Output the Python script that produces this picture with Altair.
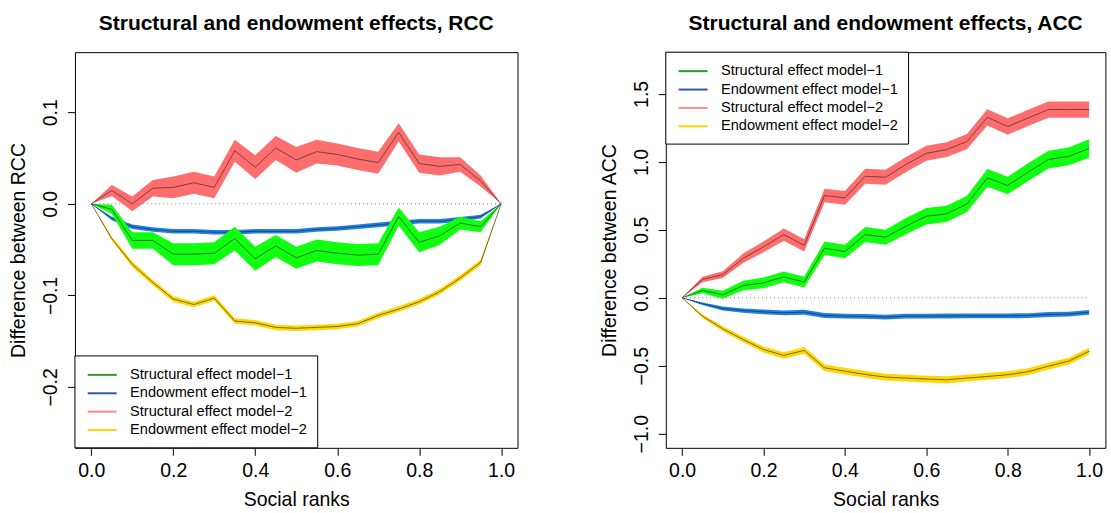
import altair as alt
import pandas as pd

FONT = "Liberation Sans"

# Social rank grid shared by every series
ranks = [0.0, 0.05, 0.1, 0.15, 0.2, 0.25, 0.3, 0.35, 0.4, 0.45, 0.5,
         0.55, 0.6, 0.65, 0.7, 0.75, 0.8, 0.85, 0.9, 0.95, 1.0]

names = ["Structural effect model\u22121", "Endowment effect model\u22121",
         "Structural effect model\u22122", "Endowment effect model\u22122"]

# ---- RCC: estimate and half width of its confidence band ----
rcc_s1 = [0, -0.006, -0.040, -0.040, -0.055, -0.055, -0.054, -0.038, -0.060, -0.046, -0.059,
          -0.051, -0.054, -0.056, -0.055, -0.014, -0.042, -0.035, -0.021, -0.025, 0]
rcc_s1_hw = [0, 0.005, 0.009, 0.009, 0.012, 0.012, 0.012, 0.013, 0.013, 0.012, 0.012,
             0.012, 0.012, 0.012, 0.012, 0.010, 0.011, 0.010, 0.007, 0.006, 0]
rcc_e1 = [0, -0.016, -0.025, -0.028, -0.030, -0.030, -0.031, -0.031, -0.030, -0.030, -0.030,
          -0.028, -0.027, -0.025, -0.023, -0.021, -0.019, -0.019, -0.017, -0.014, 0]
rcc_e1_hw = [0, 0.002, 0.0025, 0.0025, 0.0025, 0.0025, 0.0025, 0.0025, 0.0025, 0.0025, 0.0025,
             0.0025, 0.0025, 0.0025, 0.0025, 0.0025, 0.0025, 0.0025, 0.0025, 0.002, 0]
rcc_s2 = [0, 0.0146, 0.0, 0.017, 0.018, 0.023, 0.018, 0.058, 0.040, 0.061, 0.048,
          0.057, 0.054, 0.049, 0.045, 0.078, 0.044, 0.041, 0.043, 0.025, 0]
rcc_s2_hw = [0, 0.006, 0.008, 0.009, 0.012, 0.012, 0.012, 0.012, 0.013, 0.013, 0.014,
             0.013, 0.012, 0.012, 0.012, 0.010, 0.010, 0.010, 0.008, 0.006, 0]
rcc_e2 = [0, -0.038, -0.066, -0.086, -0.104, -0.110, -0.103, -0.128, -0.130, -0.135, -0.136,
          -0.135, -0.134, -0.131, -0.122, -0.115, -0.107, -0.096, -0.081, -0.064, 0]
rcc_e2_hw = [0, 0.002, 0.003, 0.003, 0.003, 0.003, 0.003, 0.003, 0.003, 0.003, 0.003,
             0.003, 0.003, 0.003, 0.003, 0.003, 0.003, 0.003, 0.003, 0.003, 0]

# ---- ACC: estimate and half width of its confidence band ----
acc_s1 = [0, 0.054, 0.022, 0.090, 0.110, 0.154, 0.115, 0.365, 0.340, 0.465, 0.446,
          0.527, 0.600, 0.617, 0.691, 0.882, 0.826, 0.924, 1.017, 1.041, 1.098]
acc_s1_hw = [0, 0.02, 0.03, 0.035, 0.04, 0.04, 0.04, 0.05, 0.05, 0.055, 0.055,
             0.06, 0.06, 0.06, 0.06, 0.065, 0.065, 0.065, 0.065, 0.065, 0.068]
acc_e1 = [0, -0.044, -0.079, -0.094, -0.104, -0.111, -0.106, -0.130, -0.135, -0.137, -0.142,
          -0.135, -0.135, -0.134, -0.133, -0.133, -0.133, -0.131, -0.123, -0.120, -0.107]
acc_e1_hw = [0, 0.01, 0.014, 0.016, 0.017, 0.018, 0.018, 0.018, 0.018, 0.018, 0.018,
             0.018, 0.018, 0.018, 0.018, 0.018, 0.018, 0.018, 0.018, 0.018, 0.018]
acc_s2 = [0, 0.135, 0.17, 0.29, 0.375, 0.465, 0.385, 0.752, 0.735, 0.894, 0.887,
          0.98, 1.063, 1.09, 1.15, 1.328, 1.26, 1.323, 1.385, 1.385, 1.385]
acc_s2_hw = [0, 0.02, 0.025, 0.035, 0.04, 0.045, 0.045, 0.05, 0.05, 0.055, 0.055,
             0.055, 0.055, 0.055, 0.055, 0.06, 0.06, 0.06, 0.06, 0.06, 0.06]
acc_e2 = [0, -0.135, -0.228, -0.307, -0.380, -0.424, -0.387, -0.515, -0.540, -0.564, -0.584,
          -0.591, -0.598, -0.603, -0.591, -0.579, -0.566, -0.544, -0.503, -0.466, -0.393]
acc_e2_hw = [0, 0.012, 0.018, 0.02, 0.022, 0.024, 0.024, 0.025, 0.025, 0.025, 0.025,
             0.025, 0.025, 0.025, 0.025, 0.025, 0.025, 0.025, 0.025, 0.025, 0.025]

x_ticks = [0.0, 0.2, 0.4, 0.6, 0.8, 1.0]
rcc_ticks = [-0.2, -0.1, 0.0, 0.1]
acc_ticks = [-1.0, -0.5, 0.0, 0.5, 1.0, 1.5]

band_colors = ["#10FF10", "#1E82E6", "#FF6E6E", "#FFD700"]
key_colors = ["#2A9A2A", "#2A5CA8", "#FF8A8A", "#FFD500"]
draw_order = [2, 3, 1, 0]

H = 396
LABEL_FS = 19.5
KEY_FS = 14.6


def panel(title, ytitle, width, ydomain, yticks, series, key_top):
    xscale = alt.Scale(domain=[-0.04, 1.04], nice=False, zero=False)
    yscale = alt.Scale(domain=ydomain, nice=False, zero=False)
    xaxis = alt.Axis(values=x_ticks, format=".1f", title="Social ranks", grid=False, domain=False,
                     tickSize=7.5, tickColor="black", tickWidth=1, labelFontSize=LABEL_FS,
                     labelFont=FONT, labelColor="black", labelPadding=6.5, labelBaseline="top",
                     labelOverlap=False, labelFlush=False, titleFont=FONT, titleFontSize=LABEL_FS,
                     titleFontWeight="normal", titleColor="black", titleBaseline="alphabetic",
                     titleY=57.5, titleX=width / 2)
    yaxis = alt.Axis(values=yticks, format=".1f", title=ytitle, grid=False, domain=False,
                     tickSize=7.5, tickColor="black", tickWidth=1, labelFontSize=LABEL_FS,
                     labelFont=FONT, labelColor="black", labelAngle=270, labelAlign="center",
                     labelBaseline="alphabetic", labelPadding=10.5, labelOverlap=False,
                     labelFlush=False, titleFont=FONT, titleFontSize=LABEL_FS,
                     titleFontWeight="normal", titleColor="black", titleAngle=270,
                     titleAlign="center", titleBaseline="alphabetic", titleX=-50, titleY=H / 2)

    zero = alt.Chart(pd.DataFrame({"x0": [0.0], "x1": [1.0], "y": [0.0]})).mark_rule(
        color="#777777", strokeDash=[1, 3], strokeWidth=1
    ).encode(
        x=alt.X("x0:Q", scale=xscale, axis=xaxis),
        x2="x1:Q",
        y=alt.Y("y:Q", scale=yscale, axis=yaxis),
    )
    layers = [zero]
    for i in draw_order:
        mid, hw = series[i]
        df = pd.DataFrame({
            "rank": ranks,
            "mid": mid,
            "lo": [m - h for m, h in zip(mid, hw)],
            "hi": [m + h for m, h in zip(mid, hw)],
        })
        band = alt.Chart(df).mark_area(color=band_colors[i], opacity=1).encode(
            x=alt.X("rank:Q", scale=xscale), y=alt.Y("lo:Q", scale=yscale), y2="hi:Q")
        line = alt.Chart(df).mark_line(color="#202020", strokeWidth=0.8, opacity=0.75).encode(
            x=alt.X("rank:Q", scale=xscale), y=alt.Y("mid:Q", scale=yscale))
        layers += [band, line]

    # key box with the four series
    one = pd.DataFrame({"k": [0]})
    box_h = 92
    layers.append(
        alt.Chart(one).mark_rect(fill="white", stroke="black", strokeWidth=1).encode(
            x=alt.value(0), x2=alt.value(243), y=alt.value(key_top), y2=alt.value(key_top + box_h))
    )
    for j, name in enumerate(names):
        yc = key_top + 19 + 18.4 * j
        layers.append(
            alt.Chart(one).mark_rule(color=key_colors[j], strokeWidth=2).encode(
                x=alt.value(12.8), x2=alt.value(41.8), y=alt.value(yc))
        )
        layers.append(
            alt.Chart(pd.DataFrame({"label": [name]})).mark_text(
                align="left", baseline="middle", font=FONT, fontSize=KEY_FS, color="black"
            ).encode(x=alt.value(55.2), y=alt.value(yc), text="label:N")
        )

    return alt.layer(*layers).properties(
        width=width, height=H,
        title=alt.TitleParams(title, font=FONT, fontSize=21, fontWeight="bold", color="black",
                              anchor="middle", offset=1, baseline="alphabetic"),
    )


rcc_series = [(rcc_s1, rcc_s1_hw), (rcc_e1, rcc_e1_hw), (rcc_s2, rcc_s2_hw), (rcc_e2, rcc_e2_hw)]
acc_series = [(acc_s1, acc_s1_hw), (acc_e1, acc_e1_hw), (acc_s2, acc_s2_hw), (acc_e2, acc_e2_hw)]

left = panel("Structural and endowment effects, RCC", "Difference between RCC", 443,
             [-0.2666, 0.1657], rcc_ticks, rcc_series, H - 92)
right = panel("Structural and endowment effects, ACC", "Difference between ACC", 440,
              [-1.104, 1.807], acc_ticks, acc_series, 0)

chart = alt.hconcat(left, right, spacing=148.4, bounds="flush").properties(
    padding={"left": 8, "top": 12, "right": 5, "bottom": 3},
    background="white",
).configure_view(stroke="black", strokeWidth=1)

chart.save("out.html", embed_options={"renderer": "svg", "actions": False})
